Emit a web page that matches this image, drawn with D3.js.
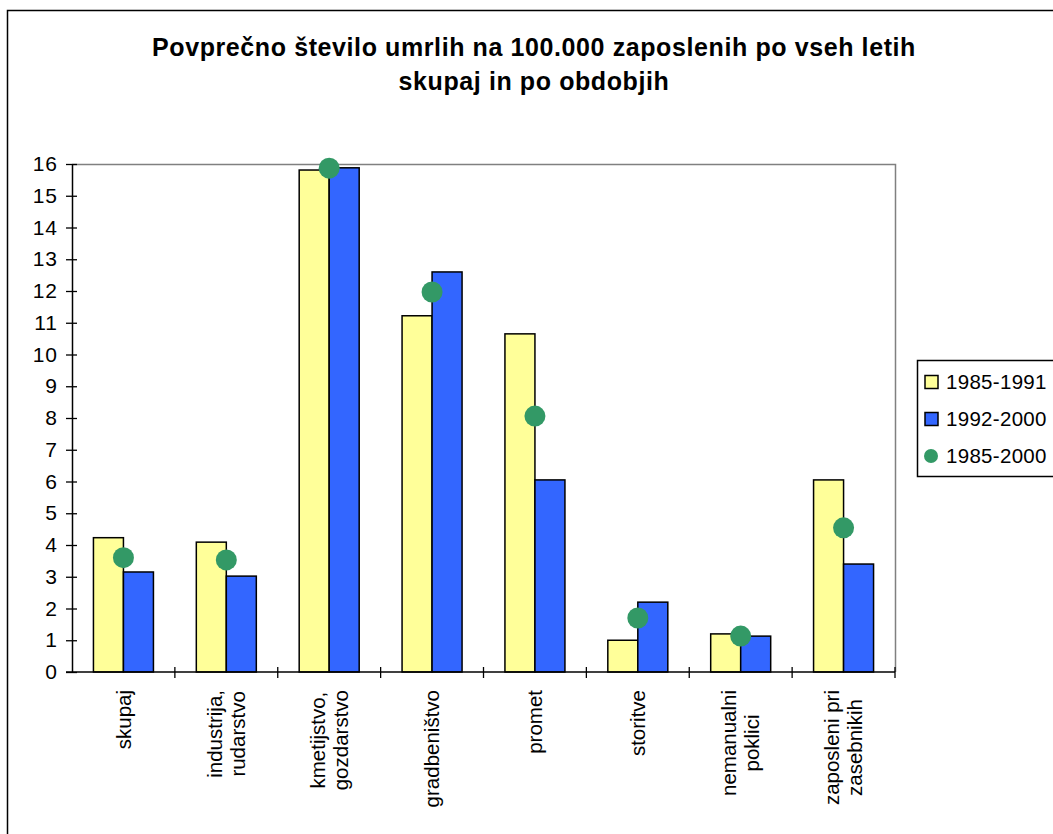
<!DOCTYPE html>
<html>
<head>
<meta charset="utf-8">
<script src="https://cdn.jsdelivr.net/npm/d3@7"></script>
<style>
  body { margin: 0; background: #fff; }
  svg { display: block; font-family: Arial, "Liberation Sans", sans-serif; }
</style>
</head>
<body>
<script>
// Data
var categories = ["skupaj", "industrija,\nrudarstvo", "kmetijstvo,\ngozdarstvo", "gradbeništvo",
                  "promet", "storitve", "nemanualni\npoklici", "zaposleni pri\nzasebnikih"];
var period1 = [4.23, 4.09, 15.81, 11.22, 10.65, 1.0, 1.2, 6.05];   // 1985-1991
var period2 = [3.15, 3.02, 15.88, 12.6, 6.05, 2.2, 1.13, 3.4];     // 1992-2000
var overall = [3.6, 3.53, 15.87, 11.97, 8.06, 1.7, 1.13, 4.54];    // 1985-2000
var seriesNames = ["1985-1991", "1992-2000", "1985-2000"];
var yTicks = d3.range(0, 17);

var canvas = {w: 1053, h: 834},
    plot = {left: 72, top: 164, right: 895, bottom: 672};

var svg = d3.select("body").append("svg")
    .attr("width", canvas.w)
    .attr("height", canvas.h);

// outer chart border (right/bottom edges fall outside the picture)
svg.append("rect")
    .attr("x", 7.5).attr("y", 10.5)
    .attr("width", 1100).attr("height", 900)
    .attr("fill", "#fff").attr("stroke", "#000").attr("stroke-width", 1.5);

// title
var title = svg.append("text")
    .attr("text-anchor", "middle")
    .attr("font-weight", "bold")
    .attr("font-size", "25px")
    .attr("letter-spacing", "0.6px");
title.append("tspan").attr("x", 534).attr("y", 56)
    .text("Povprečno število umrlih na 100.000 zaposlenih po vseh letih");
title.append("tspan").attr("x", 534).attr("y", 90)
    .text("skupaj in po obdobjih");

var x = d3.scaleBand().domain(d3.range(categories.length))
    .range([plot.left, plot.right]).paddingInner(0).paddingOuter(0);
var barW = 30;
var y = d3.scaleLinear().domain([0, 16]).range([plot.bottom, plot.top]);

var g = svg.append("g");

// plot area top/right border
g.append("path")
    .attr("d", "M" + plot.left + "," + (plot.top + 0.5) + "H" + (plot.right + 0.5) + "V" + plot.bottom)
    .attr("fill", "none").attr("stroke", "#808080").attr("stroke-width", 1.5);

// y axis
var yAxis = g.append("g")
    .attr("transform", "translate(" + plot.left + ",0)")
    .call(d3.axisLeft(y).tickValues(yTicks).tickSizeInner(6).tickSizeOuter(0).tickPadding(8));
yAxis.selectAll(".tick line").attr("x1", 5).attr("stroke-width", 1.3);
yAxis.select(".domain").attr("stroke-width", 1.5);
yAxis.selectAll("text").attr("font-size", "21px").attr("letter-spacing", "1px").attr("fill", "#000")
    .attr("font-family", "Arial, 'Liberation Sans', sans-serif");

// bars
var groups = g.selectAll(".cat")
    .data(categories.map(function(c, i) { return {i: i, a: period1[i], b: period2[i], m: overall[i]}; }))
    .enter().append("g").attr("class", "cat");

function cx(d) { return x(d.i) + x.bandwidth() / 2; }

groups.append("rect")
    .attr("x", function(d) { return cx(d) - barW; })
    .attr("y", function(d) { return y(d.a); })
    .attr("width", barW)
    .attr("height", function(d) { return y(0) - y(d.a); })
    .attr("fill", "#FFFF99").attr("stroke", "#000").attr("stroke-width", 1.5);

groups.append("rect")
    .attr("x", function(d) { return cx(d); })
    .attr("y", function(d) { return y(d.b); })
    .attr("width", barW)
    .attr("height", function(d) { return y(0) - y(d.b); })
    .attr("fill", "#3366FF").attr("stroke", "#000").attr("stroke-width", 1.5);

// x axis line with cross ticks at category boundaries
g.append("line")
    .attr("x1", plot.left - 6).attr("x2", plot.right)
    .attr("y1", plot.bottom).attr("y2", plot.bottom)
    .attr("stroke", "#000").attr("stroke-width", 1.5);
g.selectAll(".xtick")
    .data(d3.range(1, categories.length + 1))
    .enter().append("line")
    .attr("class", "xtick")
    .attr("x1", function(i) { return plot.left + i * x.step(); })
    .attr("x2", function(i) { return plot.left + i * x.step(); })
    .attr("y1", plot.bottom - 5).attr("y2", plot.bottom + 6)
    .attr("stroke", "#000").attr("stroke-width", 1.3);

// dots for whole period
groups.append("circle")
    .attr("cx", cx)
    .attr("cy", function(d) { return y(d.m); })
    .attr("r", 10.5)
    .attr("fill", "#339966");

// rotated category labels
var labelTop = 690;
groups.each(function(d) {
    var lines = categories[d.i].split("\n");
    var t = d3.select(this).append("text")
        .attr("transform", "translate(" + cx(d) + "," + labelTop + ") rotate(-90)")
        .attr("text-anchor", "middle")
        .attr("font-size", "20.5px");
    var step = 23, off = -(lines.length - 1) * step / 2;
    var spans = lines.map(function(l, k) {
        return t.append("tspan").attr("y", off + k * step).attr("dy", "0.35em").text(l);
    });
    var maxW = d3.max(spans, function(s) { return s.node().getComputedTextLength(); });
    spans.forEach(function(s) { s.attr("x", -maxW / 2); });
});

// legend
var legend = svg.append("g");
legend.append("rect")
    .attr("x", 917.5).attr("y", 360.5).attr("width", 200).attr("height", 116)
    .attr("fill", "#fff").attr("stroke", "#000").attr("stroke-width", 1.5);
var rowY = [382, 419, 456];
var colors = ["#FFFF99", "#3366FF", "#339966"];
seriesNames.forEach(function(name, k) {
    if (k < 2) {
        legend.append("rect")
            .attr("x", 925).attr("y", rowY[k] - 6.5).attr("width", 13).attr("height", 13)
            .attr("fill", colors[k]).attr("stroke", "#000").attr("stroke-width", 1.5);
    } else {
        legend.append("circle")
            .attr("cx", 931).attr("cy", rowY[k]).attr("r", 7).attr("fill", colors[k]);
    }
    legend.append("text")
        .attr("x", 946).attr("y", rowY[k]).attr("dy", "0.35em")
        .attr("font-size", "20.5px").attr("letter-spacing", "0.3px")
        .text(name);
});
</script>
</body>
</html>
